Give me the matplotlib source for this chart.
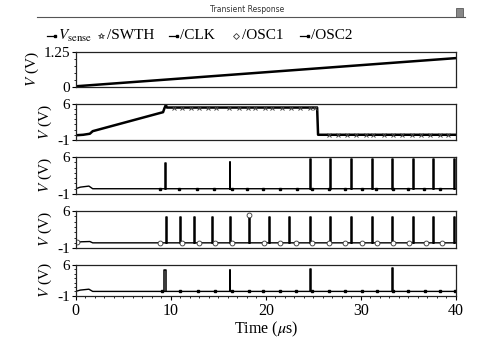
import numpy as np
import matplotlib
matplotlib.use("Agg")
import matplotlib.pyplot as plt
from matplotlib.lines import Line2D
from matplotlib.patches import Rectangle
from matplotlib.ticker import MultipleLocator

plt.rcParams['font.family'] = ['Liberation Serif', 'DejaVu Serif']
plt.rcParams['mathtext.fontset'] = 'stix'

# V_sense : rampe lente
t_vsense = [0, 40]
v_vsense = [0.02, 1.03]

# /SWTH : rampe, palier haut puis retour bas
t_swth = [0, 0.8, 1.5, 1.8, 9.2, 9.35, 9.5, 9.6, 25.4, 25.5, 40]
v_swth = [-0.1, 0.0, 0.2, 0.7, 4.4, 5.2, 5.8, 5.3, 5.3, 0.0, 0.0]
swth_marks = [10.3, 11.2, 12.1, 13.0, 13.9, 14.8, 16.1, 17.2, 18.1, 18.9, 19.9,
              20.7, 21.7, 22.7, 23.6, 24.6, 25.2, 26.6, 27.6, 28.5, 29.5, 30.5,
              31.3, 32.4, 33.4, 34.3, 35.4, 36.3, 37.3, 38.3, 39.2]

# ligne de base (petite bosse au démarrage)
t_base = [0, 0.5, 1.4, 1.8, 40]
v_base = [0.0, 0.3, 0.5, 0.0, 0.0]
t_base_osc1 = [0, 0.6, 1.5, 1.8, 40]
v_base_osc1 = [0.05, 0.2, 0.25, 0.0, 0.0]

# /CLK
clk_t = [9.4, 16.2, 24.7, 26.8, 29.0, 31.2, 33.3, 35.5, 37.6, 39.8]
clk_h = [4.8, 5.0, 5.6, 5.6, 5.6, 5.6, 5.6, 5.6, 5.6, 5.6]
clk_w = [0.15, 0.05, 0.05, 0.05, 0.05, 0.05, 0.08, 0.05, 0.05, 0.05]
clk_marks = [8.9, 10.9, 12.8, 14.6, 16.4, 18.0, 19.75, 21.5, 23.3, 24.9, 26.6,
             28.3, 30.1, 31.6, 33.4, 35.0, 36.6, 38.3]

# /OSC1
osc1_t = [9.5, 10.95, 12.45, 14.3, 16.2, 18.2, 20.3, 22.4, 24.7, 26.8, 29.0,
          31.2, 33.3, 35.5, 37.6, 39.8]
osc1_h = [4.8, 4.8, 4.8, 4.8, 4.8, 5.0, 4.8, 4.8, 4.8, 4.8, 4.8, 4.8, 4.8, 4.8, 4.8, 4.8]
osc1_w = [0.1] * 16
osc1_marks = [0.1, 8.9, 11.2, 13.0, 14.7, 16.4, 19.8, 21.5, 23.2, 24.9, 26.7,
              28.3, 30.1, 31.7, 33.4, 35.1, 36.8, 38.5]
osc1_top_mark_t = [18.2]
osc1_top_mark_v = [5.2]

# /OSC2
osc2_t = [9.3, 16.2, 24.7, 33.3]
osc2_h = [4.8, 4.9, 5.0, 5.3]
osc2_w = [0.2, 0.06, 0.06, 0.12]
osc2_marks = [9.05, 11.0, 12.9, 14.7, 16.4, 18.2, 19.75, 21.5, 23.2, 24.9, 26.6,
              28.3, 30.1, 31.7, 33.4, 35.0, 36.7, 38.3, 39.9]

fig = plt.figure(figsize=(4.94, 3.56), dpi=100)

left, width = 0.153, 0.77
boxes = [(0.756, 0.098), (0.607, 0.101), (0.455, 0.104), (0.303, 0.104), (0.169, 0.087)]
axes = [fig.add_axes([left, b, width, h]) for b, h in boxes]

col = 'black'


def draw_pulses(ax, times, heights, widths, base=0.0):
    for t, h, w in zip(times, heights, widths):
        ax.plot([t, t, t + w, t + w], [base, h, h, base], color=col, lw=1.1)


# panneau 1
ax = axes[0]
ax.plot(t_vsense, v_vsense, color=col, lw=1.8)
ax.set_ylim(0, 1.25)
ax.set_yticks([0, 1.25])
ax.set_yticklabels(['0', '1.25'])
ax.yaxis.set_minor_locator(MultipleLocator(0.25))

# panneau 2
ax = axes[1]
ax.plot(t_swth, v_swth, color=col, lw=1.8)
ax.plot(swth_marks, np.interp(swth_marks, t_swth, v_swth), ls='none',
        marker='x', ms=3, mew=0.7, color='#444444')

# panneau 3
ax = axes[2]
ax.plot(t_base, v_base, color=col, lw=1.0)
draw_pulses(ax, clk_t, clk_h, clk_w)
ax.plot(clk_marks, np.interp(clk_marks, t_base, v_base), ls='none',
        marker='s', ms=1.8, color=col)

# panneau 4
ax = axes[3]
ax.plot(t_base_osc1, v_base_osc1, color=col, lw=1.0)
draw_pulses(ax, osc1_t, osc1_h, osc1_w)
ax.plot(osc1_marks, np.interp(osc1_marks, t_base_osc1, v_base_osc1), ls='none',
        marker='o', ms=3.5, mfc='white', mec='#333333', mew=0.6)
ax.plot(osc1_top_mark_t, osc1_top_mark_v, ls='none',
        marker='o', ms=3.5, mfc='white', mec='#333333', mew=0.6)

# panneau 5
ax = axes[4]
ax.plot(t_base, v_base, color=col, lw=1.0)
draw_pulses(ax, osc2_t, osc2_h, osc2_w)
ax.plot(osc2_marks, np.interp(osc2_marks, t_base, v_base), ls='none',
        marker='s', ms=1.8, color=col)

for i, ax in enumerate(axes):
    ax.set_xlim(0, 40)
    if i > 0:
        ax.set_ylim(-1, 6)
        ax.set_yticks([-1, 6])
        ax.set_yticklabels(['-1', '6'])
        ax.yaxis.set_minor_locator(MultipleLocator(1))
    ax.set_ylabel('$V$ (V)', fontsize=11, labelpad=2)
    ax.tick_params(axis='y', labelsize=11, length=3, width=0.8, pad=1)
    ax.tick_params(axis='y', which='minor', length=1.5, width=0.6)
    for s in ax.spines.values():
        s.set_linewidth(0.9)
        s.set_color('#222222')
    if i < 4:
        ax.set_xticks([])
    else:
        ax.set_xticks([0, 10, 20, 30, 40])
        ax.xaxis.set_minor_locator(MultipleLocator(1))
        ax.tick_params(axis='x', labelsize=11.5, length=3, width=0.8, pad=2)
        ax.tick_params(axis='x', which='minor', length=1.5, width=0.6)
        ax.set_xlabel(r'Time ($\mu$s)', fontsize=11.5, labelpad=1)

# titre de la fenêtre
fig.text(0.5, 0.972, 'Transient Response', family='DejaVu Sans', fontsize=5.5,
         ha='center', va='center', color='#333333')
fig.add_artist(Line2D([0.075, 0.941], [0.952, 0.952], transform=fig.transFigure,
                      color='#555555', lw=0.8))
fig.add_artist(Rectangle((0.923, 0.952), 0.014, 0.026, transform=fig.transFigure,
                         facecolor='#888888', edgecolor='#444444', lw=0.5))

# légende
ly = 0.90
legend_items = [
    (0.105, 's', r'$V_{\mathrm{sense}}$'),
    (0.205, 'x', '/SWTH'),
    (0.352, 's', '/CLK'),
    (0.478, 'o', '/OSC1'),
    (0.618, 's', '/OSC2'),
]
for x, m, label in legend_items:
    if m == 'o':
        fig.add_artist(Line2D([x], [ly], transform=fig.transFigure, ls='none',
                              marker='D', ms=3, mfc='white', mec='#333333', mew=0.6))
    elif m == 'x':
        fig.add_artist(Line2D([x], [ly], transform=fig.transFigure, ls='none',
                              marker='*', ms=4, mfc='white', mec='#333333', mew=0.6))
    else:
        fig.add_artist(Line2D([x - 0.01, x + 0.006], [ly, ly], transform=fig.transFigure,
                              color=col, lw=0.9, marker='s', ms=1.5, markevery=[1]))
    fig.text(x + 0.012, ly, label, fontsize=11, ha='left', va='center')

fig.savefig('out.png', dpi=100)
